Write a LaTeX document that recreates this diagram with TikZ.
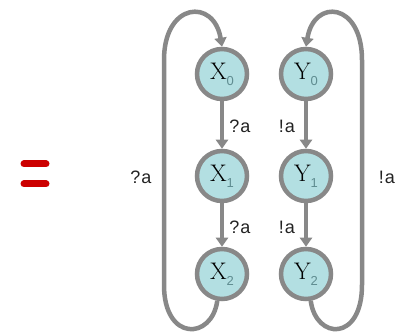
\documentclass[tikz,border=0pt]{standalone}
\usepackage{fontspec}
\setsansfont{Liberation Sans}
\usetikzlibrary{arrows.meta}
\definecolor{nodefill}{HTML}{B3DFE2}
\definecolor{edgegray}{HTML}{888888}
\definecolor{subcol}{HTML}{5F8C90}
\definecolor{eqred}{HTML}{CC0000}
\definecolor{labcol}{HTML}{222222}
\newcommand{\stlab}[2]{#1\raisebox{-6pt}{\sffamily\fontsize{13}{13}\selectfont\textcolor{subcol}{#2}}}
\begin{document}
\begin{tikzpicture}[x=1pt,y=-1pt,
  state/.style={circle,draw=edgegray,line width=4.5pt,fill=nodefill,minimum size=50pt,inner sep=0pt,font=\fontsize{24}{24}\selectfont},
  conn/.style={draw=edgegray,line width=4.5pt,-{Triangle[width=12pt,length=9pt]}},
  lab/.style={font=\sffamily\fontsize{18}{18}\selectfont,text=labcol,inner sep=0pt},
  eqbar/.style={draw=eqred,line width=7pt,line cap=round}]
\useasboundingbox (0,0) rectangle (408,336);
\node[state] (X0) at (222,74) {\stlab{X}{0}};
\node[state] (X1) at (222,176) {\stlab{X}{1}};
\node[state] (X2) at (222,274) {\stlab{X}{2}};
\node[state] (Y0) at (306,74) {\stlab{Y}{0}};
\node[state] (Y1) at (306,176) {\stlab{Y}{1}};
\node[state] (Y2) at (306,274) {\stlab{Y}{2}};
\draw[conn] (X0) -- (X1);
\draw[conn] (X1) -- (X2);
\draw[conn] (Y0) -- (Y1);
\draw[conn] (Y1) -- (Y2);
\draw[conn] (X2.260) .. controls (212,340) and (164,342) .. (164,285) -- (164,60) .. controls (164,2) and (214,-2) .. (X0.north);
\draw[conn] (Y2.280) .. controls (316,340) and (362,342) .. (362,285) -- (362,60) .. controls (362,2) and (314,-2) .. (Y0.north);
\node[lab] (l1) at (240,126) {?\kern1pt a};
\node[lab] (l2) at (240,227) {?\kern1pt a};
\node[lab] (l3) at (287,126) {!\kern1pt a};
\node[lab] (l4) at (287,227) {!\kern1pt a};
\node[lab] (l5) at (141,177) {?\kern1pt a};
\node[lab] (l6) at (387,177) {!\kern1pt a};
\coordinate (e1a) at (24,164); \coordinate (e1b) at (46,164);
\coordinate (e2a) at (24,184); \coordinate (e2b) at (46,184);
\draw[eqbar] (e1a) -- (e1b);
\draw[eqbar] (e2a) -- (e2b);
\end{tikzpicture}
\end{document}
